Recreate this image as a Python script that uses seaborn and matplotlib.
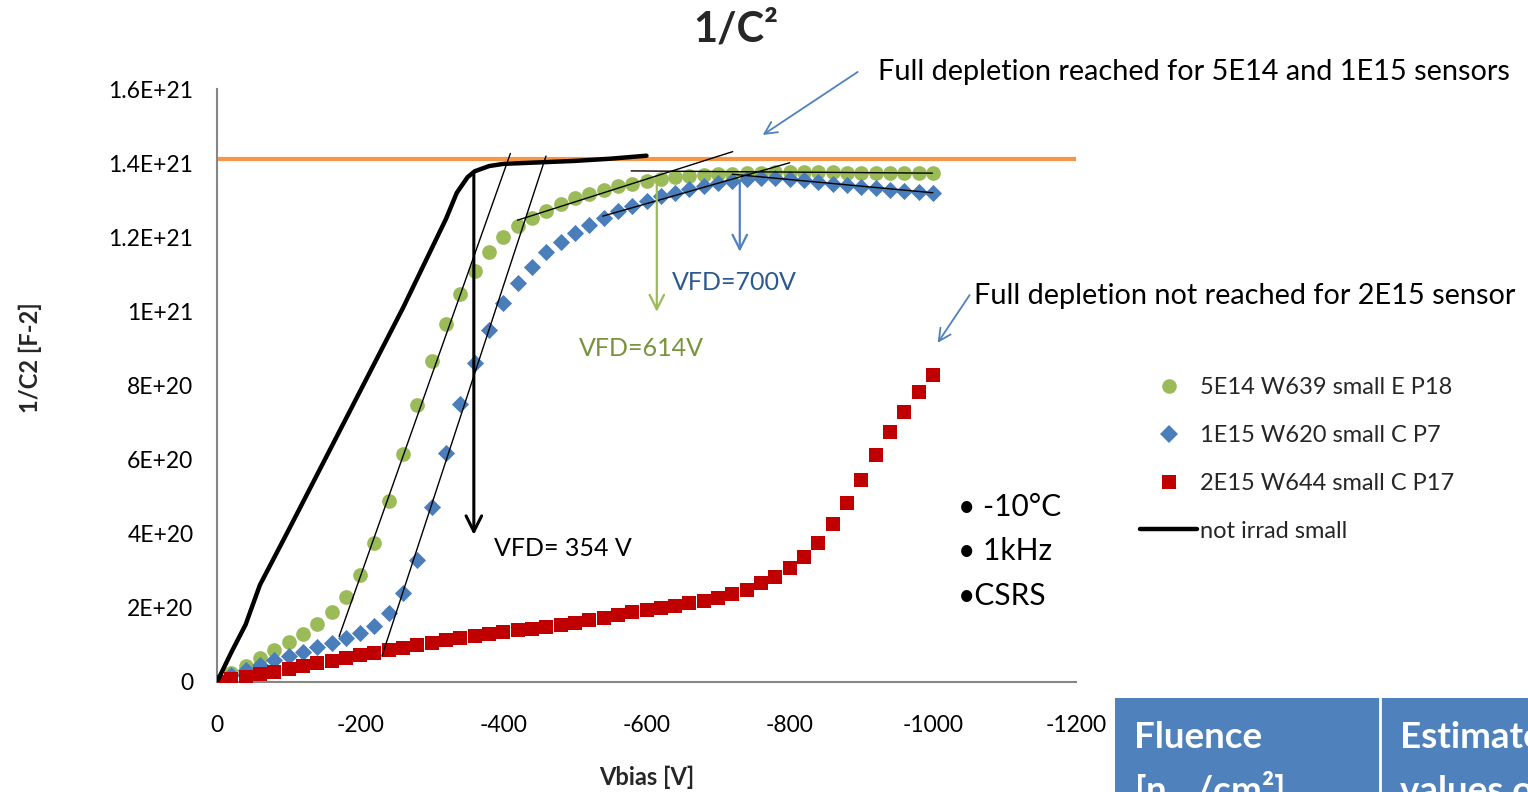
import numpy as np
import pandas as pd
import matplotlib
matplotlib.use("Agg")
import matplotlib.pyplot as plt
from matplotlib.lines import Line2D
from matplotlib.patches import Rectangle
import seaborn as sns

# ---------------- data ----------------
vbias = [0, -20, -40, -60, -80, -100, -120, -140, -160, -180, -200, -220, -240, -260,
         -280, -300, -320, -340, -360, -380, -400, -420, -440, -460, -480, -500, -520,
         -540, -560, -580, -600, -620, -640, -660, -680, -700, -720, -740, -760, -780,
         -800, -820, -840, -860, -880, -900, -920, -940, -960, -980, -1000]

# 1/C^2 in units of 1E20 F^-2
c2_5e14 = [0.0, 0.23, 0.43, 0.64, 0.85, 1.08, 1.30, 1.57, 1.88, 2.30, 2.89, 3.75, 4.89,
           6.16, 7.47, 8.65, 9.66, 10.46, 11.10, 11.59, 12.00, 12.31, 12.52, 12.72, 12.91,
           13.06, 13.18, 13.28, 13.37, 13.45, 13.53, 13.58, 13.62, 13.65, 13.68, 13.70,
           13.71, 13.74, 13.74, 13.75, 13.75, 13.75, 13.75, 13.75, 13.74, 13.74, 13.74,
           13.74, 13.73, 13.73, 13.73]
c2_1e15 = [0.0, 0.19, 0.32, 0.46, 0.59, 0.70, 0.82, 0.94, 1.05, 1.18, 1.32, 1.51, 1.86,
           2.40, 3.30, 4.73, 6.18, 7.51, 8.62, 9.49, 10.22, 10.76, 11.20, 11.59, 11.88,
           12.12, 12.33, 12.52, 12.70, 12.84, 12.99, 13.10, 13.20, 13.29, 13.39, 13.46,
           13.53, 13.58, 13.60, 13.60, 13.58, 13.54, 13.50, 13.45, 13.40, 13.36, 13.32,
           13.28, 13.25, 13.22, 13.20]
c2_2e15 = [0.0, 0.07, 0.14, 0.21, 0.28, 0.36, 0.43, 0.50, 0.57, 0.65, 0.72, 0.79, 0.86,
           0.93, 1.00, 1.06, 1.12, 1.18, 1.24, 1.30, 1.36, 1.40, 1.44, 1.49, 1.54, 1.60,
           1.67, 1.74, 1.81, 1.88, 1.94, 2.00, 2.06, 2.12, 2.18, 2.26, 2.37, 2.48, 2.66,
           2.84, 3.07, 3.38, 3.76, 4.26, 4.84, 5.45, 6.13, 6.75, 7.29, 7.82, 8.27]

vbias_notirr = [0, -10, -20, -40, -60, -80, -100, -120, -140, -160, -180, -200, -220,
                -240, -260, -280, -300, -320, -335, -350, -360, -380, -400, -450, -500,
                -550, -600]
c2_notirr = [0.0, 0.40, 0.80, 1.55, 2.62, 3.36, 4.10, 4.85, 5.60, 6.35, 7.10, 7.85,
             8.60, 9.35, 10.10, 10.90, 11.70, 12.50, 13.20, 13.62, 13.78, 13.92, 13.98,
             14.02, 14.06, 14.12, 14.20]

full_depletion_level = 14.11  # orange reference line, 1E20 units

series_labels = ["5E14 W639 small E P18", "1E15 W620 small C P7", "2E15 W644 small C P17",
                 "not irrad small"]

# tangent construction lines: (V1, y1, V2, y2), y in 1E20
tangent_lines = [(-170.6, 1.23, -409.8, 14.26),
                 (-230.4, 0.70, -459.6, 14.19),
                 (-419.8, 12.46, -720.4, 14.31),
                 (-578.6, 13.79, -999.5, 13.73),
                 (-539.0, 12.57, -800.0, 14.01),
                 (-720.0, 13.70, -1000.0, 13.20)]

xticks = [0, -200, -400, -600, -800, -1000, -1200]
xtick_labels = ["0", "-200", "-400", "-600", "-800", "-1000", "-1200"]
yticks = [0, 2e20, 4e20, 6e20, 8e20, 1e21, 1.2e21, 1.4e21, 1.6e21]
ytick_labels = ["0", "2E+20", "4E+20", "6E+20", "8E+20", "1E+21", "1.2E+21", "1.4E+21",
                "1.6E+21"]

E = 1e20

# ---------------- style ----------------
sns.set_theme(style="white")
plt.rcParams["font.family"] = ["Lato", "DejaVu Sans"]
plt.rcParams["mathtext.default"] = "regular"

GREEN = "#9BBB59"
BLUE = "#4A7EBB"
RED = "#C00000"
ORANGE = "#F79646"
GRAY = "#868686"

W, H = 1528, 792
fig = plt.figure(figsize=(W / 100, H / 100), dpi=100)
ax = fig.add_axes([217 / W, 110 / H, 859 / W, 593 / H])

df_g = pd.DataFrame({"Vbias": vbias, "C2": np.array(c2_5e14) * E})
df_b = pd.DataFrame({"Vbias": vbias, "C2": np.array(c2_1e15) * E})
df_r = pd.DataFrame({"Vbias": vbias, "C2": np.array(c2_2e15) * E})
df_n = pd.DataFrame({"Vbias": vbias_notirr, "C2": np.array(c2_notirr) * E})

ax.axhline(full_depletion_level * E, color=ORANGE, lw=3.0, zorder=1)

sns.scatterplot(data=df_g, x="Vbias", y="C2", marker="o", color=GREEN, s=112,
                linewidth=0, ax=ax, zorder=3)
sns.scatterplot(data=df_b, x="Vbias", y="C2", marker="D", color=BLUE, s=76,
                linewidth=0, ax=ax, zorder=4)
sns.scatterplot(data=df_r, x="Vbias", y="C2", marker="s", color=RED, s=112,
                linewidth=0, ax=ax, zorder=5)
sns.lineplot(data=df_n, x="Vbias", y="C2", color="black", lw=3.2, sort=False,
             estimator=None, ax=ax, zorder=6)

for (x1, y1, x2, y2) in tangent_lines:
    ax.plot([x1, x2], [y1 * E, y2 * E], color="black", lw=1.0, zorder=7)

# VFD arrows
ax.annotate("", xy=(-358.8, 3.97 * E), xytext=(-358.8, 13.76 * E),
            arrowprops=dict(arrowstyle="->", color="black", lw=2.2, mutation_scale=28,
                            shrinkA=0, shrinkB=0), zorder=8)
ax.annotate("", xy=(-614.4, 9.99 * E), xytext=(-614.4, 13.46 * E),
            arrowprops=dict(arrowstyle="->", color=GREEN, lw=1.6, mutation_scale=26,
                            shrinkA=0, shrinkB=0), zorder=8)
ax.annotate("", xy=(-730.3, 11.61 * E), xytext=(-730.3, 13.5 * E),
            arrowprops=dict(arrowstyle="->", color="#4F81BD", lw=1.6, mutation_scale=26,
                            shrinkA=0, shrinkB=0), zorder=8)

ax.text(-386.8, 3.59 * E, "VFD= 354 V", fontsize=18, color="black", ha="left",
        va="center")
ax.text(-505.5, 8.99 * E, "VFD=614V", fontsize=18, color="#77933C", ha="left",
        va="center")
ax.text(-635.3, 10.77 * E, "VFD=700V", fontsize=18, color="#2B5A92", ha="left",
        va="center")

# callouts
ax.annotate("", xy=(-762.4, 14.76 * E), xytext=(-895.0, 16.46 * E),
            arrowprops=dict(arrowstyle="->", color="#4F81BD", lw=1.3, mutation_scale=22,
                            shrinkA=0, shrinkB=0), annotation_clip=False)
ax.text(-923.0, 16.46 * E, "Full depletion reached for 5E14 and 1E15 sensors",
        fontsize=20.8, ha="left", va="center", color="black", clip_on=False)
ax.annotate("", xy=(-1006.7, 9.15 * E), xytext=(-1051.4, 10.44 * E),
            arrowprops=dict(arrowstyle="->", color="#4F81BD", lw=1.3, mutation_scale=22,
                            shrinkA=0, shrinkB=0), annotation_clip=False)
ax.text(-1057.0, 10.42 * E, "Full depletion not reached for 2E15 sensor",
        fontsize=20.8, ha="left", va="center", color="black", clip_on=False)

for txt, yv in [("• -10°C", 4.72), ("• 1kHz", 3.53), ("•CSRS", 2.32)]:
    ax.text(-1034.7, yv * E, txt, fontsize=21.5, ha="left", va="center", color="black",
            clip_on=False)

# axes
ax.set_xlim(0, -1200)
ax.set_ylim(0, 1.6e21)
ax.set_xticks(xticks)
ax.set_xticklabels(xtick_labels)
ax.set_yticks(yticks)
ax.set_yticklabels(ytick_labels)
ax.tick_params(axis="both", direction="in", length=5, width=1.2, color=GRAY,
               labelsize=16.5, labelcolor="black")
ax.tick_params(axis="x", pad=23.5)
ax.tick_params(axis="y", pad=17)
for side in ["top", "right"]:
    ax.spines[side].set_visible(False)
for side in ["left", "bottom"]:
    ax.spines[side].set_color(GRAY)
    ax.spines[side].set_linewidth(1.5)

ax.set_xlabel("Vbias [V]", fontsize=17, fontweight="bold")
ax.set_ylabel("1/C2 [F-2]", fontsize=17, fontweight="bold")
ax.xaxis.set_label_coords((647 - 217) / 859, (682 - 777) / 593)
ax.xaxis.label.set_va("center")
ax.yaxis.set_label_coords((30 - 217) / 859, (682 - 358) / 593)
ax.yaxis.label.set_va("center")

fig.text(736 / W, 1 - 30 / H, "1/C²", fontsize=30, fontweight="bold", ha="center",
         va="center")

# legend
handles = [Line2D([], [], ls="", marker="o", color=GREEN, ms=10.5, mew=0),
           Line2D([], [], ls="", marker="D", color=BLUE, ms=8.7, mew=0),
           Line2D([], [], ls="", marker="s", color=RED, ms=10.0, mew=0),
           Line2D([], [], color="black", lw=3.2)]
fig.legend(handles, series_labels, loc="upper left",
           bbox_to_anchor=(1140 / W, 1 - 377 / H), frameon=False, fontsize=17,
           handlelength=2.42, handletextpad=0.13, labelspacing=1.14, borderpad=0,
           borderaxespad=0)

# partial table at bottom right
fig.patches.append(Rectangle((1115 / W, 0), (W - 1115) / W, (792 - 698) / H,
                             transform=fig.transFigure, facecolor="#4F81BD",
                             edgecolor="none", zorder=0))
fig.add_artist(Line2D([1380 / W, 1380 / W], [0, (792 - 698) / H],
                      transform=fig.transFigure, color="white", lw=2))
for xpx, l1, l2 in [(1134, "Fluence", "[n$_{eq}$/cm²]"),
                    (1400, "Estimated", "values of")]:
    fig.text(xpx / W, 1 - 748 / H, l1, fontsize=26.5, fontweight="bold", color="white",
             ha="left", va="baseline")
    fig.text(xpx / W, 1 - 802 / H, l2, fontsize=26.5, fontweight="bold", color="white",
             ha="left", va="baseline")

fig.savefig("out.png", dpi=100)
